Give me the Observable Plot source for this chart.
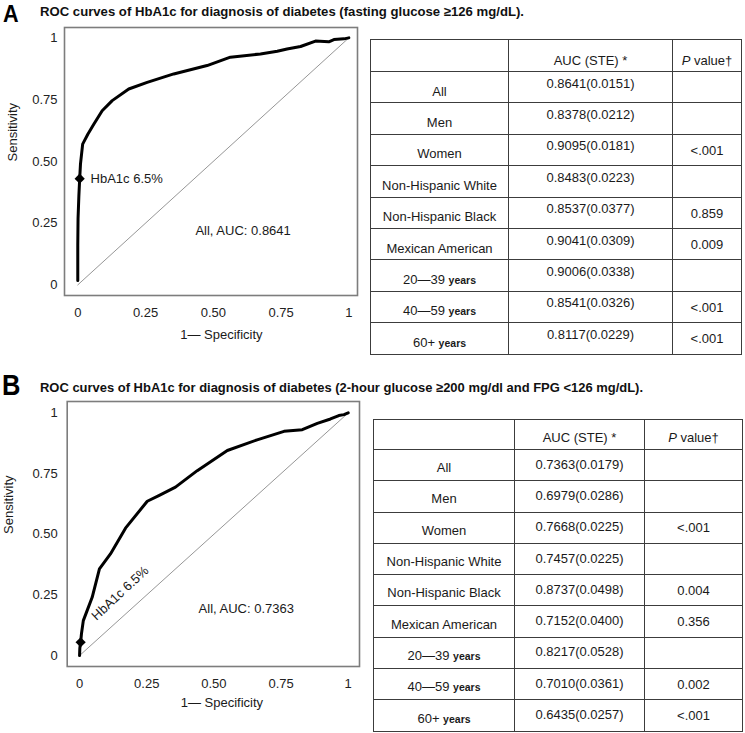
<!DOCTYPE html>
<html>
<head>
<meta charset="utf-8">
<script src="https://cdn.jsdelivr.net/npm/d3@7"></script>
<script src="https://cdn.jsdelivr.net/npm/@observablehq/plot@0.6"></script>
<style>
body{margin:0;background:#fff;font-family:"Liberation Sans",Arial,sans-serif;}
#root{position:relative;width:745px;height:733px;overflow:hidden;background:#fff;}
.abs{position:absolute;}
.letter{font-weight:bold;color:#000;transform:scaleX(0.9);transform-origin:left top;}
.title{font-weight:bold;font-size:13px;line-height:13px;white-space:nowrap;color:#111;transform-origin:left top;}
table.tb{border-collapse:collapse;position:absolute;table-layout:fixed;font-size:13px;color:#1a1a1a;}
table.tb td{border:1.5px solid #3c3c3c;text-align:center;padding:0;white-space:nowrap;box-sizing:border-box;}
.yrs{font-size:10.5px;font-weight:bold;}
</style>
</head>
<body>
<div id="root"></div>
<script>
// ---------- data ----------
const groups = ["All","Men","Women","Non-Hispanic White","Non-Hispanic Black","Mexican American","20\u201439 years","40\u201459 years","60+ years"];
const headers = ["", "AUC (STE) *", "P value\u2020"];

const aucA = ["0.8641(0.0151)","0.8378(0.0212)","0.9095(0.0181)","0.8483(0.0223)","0.8537(0.0377)","0.9041(0.0309)","0.9006(0.0338)","0.8541(0.0326)","0.8117(0.0229)"];
const pA = ["","","<.001","","0.859","0.009","","<.001","<.001"];

const aucB = ["0.7363(0.0179)","0.6979(0.0286)","0.7668(0.0225)","0.7457(0.0225)","0.8737(0.0498)","0.7152(0.0400)","0.8217(0.0528)","0.7010(0.0361)","0.6435(0.0257)"];
const pB = ["","","<.001","","0.004","0.356","","0.002","<.001"];

// ROC curve A (fasting glucose)
const fprA = [0, 0, 0.001, 0.004, 0.007, 0.01, 0.018, 0.037, 0.059, 0.09, 0.127, 0.188, 0.256, 0.354, 0.477, 0.563, 0.674, 0.736, 0.772, 0.822, 0.877, 0.926, 0.945, 0.982, 1];
const tprA = [0.018, 0.16, 0.27, 0.36, 0.43, 0.49, 0.57, 0.61, 0.65, 0.705, 0.746, 0.793, 0.82, 0.854, 0.888, 0.922, 0.935, 0.946, 0.955, 0.965, 0.987, 0.984, 0.993, 0.996, 1];
const cutA = {x: 0.007, y: 0.43};

// ROC curve B (2-hour glucose)
const fprB = [0, 0.001, 0.004, 0.007, 0.014, 0.026, 0.047, 0.074, 0.115, 0.171, 0.252, 0.295, 0.357, 0.438, 0.55, 0.661, 0.761, 0.829, 0.885, 0.934, 0.965, 0.984, 1];
const tprB = [0, 0.03, 0.055, 0.089, 0.144, 0.179, 0.24, 0.357, 0.419, 0.525, 0.636, 0.659, 0.694, 0.762, 0.845, 0.889, 0.924, 0.931, 0.957, 0.975, 0.989, 0.993, 1];
const cutB = {x: 0.004, y: 0.055};

const diagonal = [0, 1];
const ticks = [0, 0.25, 0.5, 0.75, 1];
const tickLabels = ["0", "0.25", "0.50", "0.75", "1"];

const titleA = "ROC curves of HbA1c for diagnosis of diabetes (fasting glucose \u2265126 mg/dL).";
const titleB = "ROC curves of HbA1c for diagnosis of diabetes (2-hour glucose \u2265200 mg/dl and FPG <126 mg/dL).";
const cutLabel = "HbA1c 6.5%";
const aucLabelA = "All, AUC: 0.8641";
const aucLabelB = "All, AUC: 0.7363";
const xLabel = "1\u2014 Specificity";
const yLabel = "Sensitivity";

// ---------- layout ----------
const root = document.getElementById("root");
const FONT = "Liberation Sans, Arial, sans-serif";

function addDiv(cls, html, left, top) {
  const d = document.createElement("div");
  d.className = "abs " + cls;
  d.innerHTML = html;
  d.style.left = left + "px";
  d.style.top = top + "px";
  root.appendChild(d);
  return d;
}

function fitWidth(el, w) {
  const actual = el.getBoundingClientRect().width;
  if (actual > 0) el.style.transform = `scaleX(${w / actual})`;
}

function rocChart(o) {
  const pts = o.fpr.map((x, i) => ({x, y: o.tpr[i]}));
  const fmt = d => tickLabels[ticks.indexOf(d)];
  return Plot.plot({
    width: 370, height: o.height,
    marginLeft: o.ml, marginRight: o.mr, marginTop: o.mt, marginBottom: o.mb,
    x: {domain: o.xd, ticks, tickFormat: fmt, tickSize: 0, tickPadding: 12, label: null},
    y: {domain: o.yd, ticks, tickFormat: fmt, tickSize: 0, tickPadding: o.ypad, label: null},
    style: {fontSize: "13px", fontFamily: FONT, color: "#222", background: "transparent", overflow: "visible"},
    marks: [
      Plot.frame({stroke: "#7d7d7d", strokeWidth: 1.6}),
      Plot.line(diagonal, {x: d => d, y: d => d, stroke: "#8a8a8a", strokeWidth: 0.9}),
      Plot.line(pts, {x: "x", y: "y", stroke: "#000", strokeWidth: 3, strokeLinejoin: "round"}),
      Plot.dot([o.cut], {x: "x", y: "y", symbol: "diamond2", r: 4.6, fill: "#000", stroke: "none"}),
      Plot.text([o.cutText], {x: "x", y: "y", text: "t", textAnchor: o.cutText.anchor, rotate: o.cutText.rot, fontSize: 13, fill: "#1a1a1a"}),
      Plot.text([o.aucText], {x: "x", y: "y", text: "t", textAnchor: "start", fontSize: 13, fill: "#1a1a1a"}),
      Plot.text([xLabel], {x: () => o.xlx, frameAnchor: "bottom", dy: o.xldy, text: d => d, fontSize: 13, fill: "#1a1a1a"}),
      Plot.text([yLabel], {frameAnchor: "left", dx: o.yldx, dy: o.yldy, rotate: -90, text: d => d, fontSize: 13, fill: "#1a1a1a"})
    ]
  });
}

// Panel A chart
const svgA = rocChart({
  height: 350, ml: 64, mr: 13, mt: 27, mb: 55, ypad: 7,
  xd: [-0.049, 1.032], yd: [-0.043, 1.042],
  fpr: fprA, tpr: tprA, cut: cutA,
  cutText: {x: 0.047, y: 0.43, t: cutLabel, anchor: "start", rot: 0},
  aucText: {x: 0.434, y: 0.22, t: aucLabelA},
  xlx: 0.53, xldy: 43, yldx: -52, yldy: 0
});
svgA.style.position = "absolute"; svgA.style.left = "0px"; svgA.style.top = "0px";
root.appendChild(svgA);

// Panel B chart
const svgB = rocChart({
  height: 388, ml: 66.7, mr: 11, mt: 56, mb: 67, ypad: 9.5,
  xd: [-0.046, 1.042], yd: [-0.045, 1.047],
  fpr: fprB, tpr: tprB, cut: cutB,
  cutText: {x: 0.151, y: 0.257, t: cutLabel, anchor: "middle", rot: -43},
  aucText: {x: 0.443, y: 0.194, t: aucLabelB},
  xlx: 0.53, xldy: 40, yldx: -58, yldy: 0
});
svgB.style.position = "absolute"; svgB.style.left = "0px"; svgB.style.top = "345px";
root.appendChild(svgB);

// Letters and titles
const lA = addDiv("letter", "A", 3, 0.5);
lA.style.fontSize = "24px"; lA.style.lineHeight = "1.117";
const lB = addDiv("letter", "B", 2, 369.6);
lB.style.fontSize = "30px"; lB.style.lineHeight = "30px";
lB.style.transform = "scaleX(0.85)";
const tA = addDiv("title", titleA.replace(/</g, "&lt;"), 40, 4.5);
const tB = addDiv("title", titleB.replace(/</g, "&lt;"), 40, 380.5);
fitWidth(tA, 484);
fitWidth(tB, 603);

// Tables
function labelHtml(g) {
  const m = g.match(/^(.*) years$/);
  return m ? `${m[1]} <span class="yrs">years</span>` : g;
}
function makeTable(o) {
  const t = document.createElement("table");
  t.className = "tb";
  t.style.left = o.left + "px";
  t.style.top = o.top + "px";
  t.style.width = o.cols.reduce((a, b) => a + b, 0) + "px";
  const cg = document.createElement("colgroup");
  o.cols.forEach(w => { const c = document.createElement("col"); c.style.width = w + "px"; cg.appendChild(c); });
  t.appendChild(cg);
  const hr = document.createElement("tr");
  hr.style.height = o.hh + "px";
  headers.forEach((h, j) => {
    const td = document.createElement("td");
    td.innerHTML = j === 2 ? `<i>P</i> value\u2020` : h;
    td.style.paddingTop = o.hpad + "px";
    hr.appendChild(td);
  });
  t.appendChild(hr);
  groups.forEach((g, i) => {
    const tr = document.createElement("tr");
    tr.style.height = o.rh + "px";
    const c1 = document.createElement("td"); c1.innerHTML = labelHtml(g);
    c1.style.paddingTop = o.lpad + "px";
    const c2 = document.createElement("td"); c2.textContent = o.auc[i];
    c2.style.paddingBottom = o.apad + "px";
    const c3 = document.createElement("td"); c3.textContent = o.p[i];
    c3.style.paddingTop = o.ppad + "px";
    tr.append(c1, c2, c3);
    t.appendChild(tr);
  });
  root.appendChild(t);
}
makeTable({left: 370, top: 39, cols: [138, 164, 69], hh: 32, rh: 31.4, hpad: 10, lpad: 8, apad: 8, ppad: 1, auc: aucA, p: pA});
makeTable({left: 373, top: 419, cols: [141, 130, 98], hh: 30, rh: 31.3, hpad: 5, lpad: 5, apad: 2, ppad: 0, auc: aucB, p: pB});
</script>
</body>
</html>
